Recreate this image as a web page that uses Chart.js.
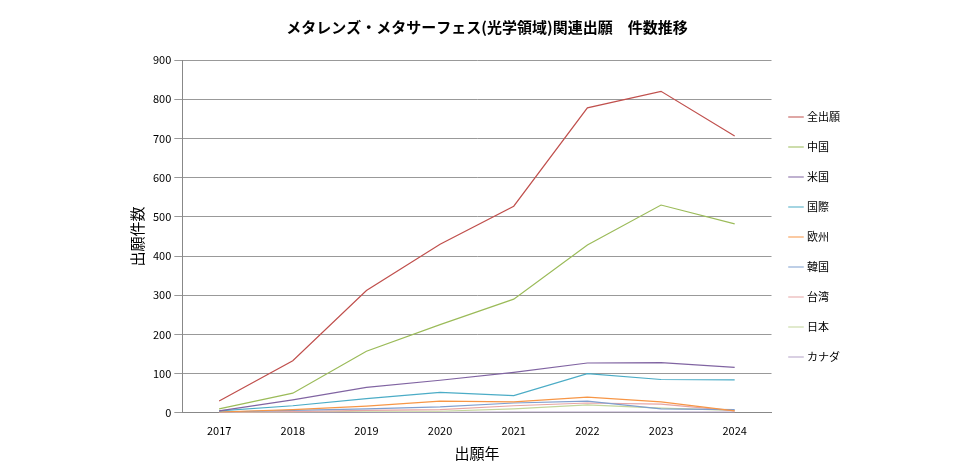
<!DOCTYPE html>
<html><head><meta charset="utf-8">
<script src="https://cdn.jsdelivr.net/npm/chart.js@4"></script>
<style>body{margin:0;background:#fff}#wrap{width:960px;height:472px}</style>
</head><body><div id="wrap"><canvas id="c"></canvas></div>
<script>
var years = ['2017','2018','2019','2020','2021','2022','2023','2024'];
var names = ['全出願','中国','米国','国際','欧州','韓国','台湾','日本','カナダ'];
var colors = ['#c0504d','#9bbb59','#8064a2','#4bacc6','#f79646','#7f9fcf','#e6a5a5','#c3d69b','#b3a2c7'];
var allApps = [30,133,312,430,527,778,820,706];
var china = [10,50,157,225,290,428,530,482];
var usa = [5,33,65,83,103,127,128,116];
var intl = [5,18,36,52,44,100,85,84];
var europe = [2,8,17,30,28,40,28,5];
var korea = [2,6,10,15,25,30,10,8];
var taiwan = [1,3,6,8,18,25,22,5];
var japan = [1,2,4,4,10,20,12,6];
var canada = [0,0,0,1,2,2,2,2];
var series = [allApps,china,usa,intl,europe,korea,taiwan,japan,canada];

var datasets = [];
for(var i=0;i<series.length;i++){
	datasets.push({label:names[i],data:series[i],borderColor:colors[i],backgroundColor:colors[i],
		borderWidth:1.2,pointRadius:0,tension:0});
}
Chart.defaults.font.family = '"Noto Sans CJK JP","DejaVu Sans",sans-serif';
Chart.defaults.color = '#000';
new Chart(document.getElementById('c'),{
	type:'line',
	data:{labels:years,datasets:datasets},
	options:{
		responsive:true,maintainAspectRatio:false,animation:false,
		layout:{padding:{left:124,right:110,top:8,bottom:6}},
		plugins:{
			title:{display:true,text:'メタレンズ・メタサーフェス(光学領域)関連出願　件数推移',font:{size:15,weight:'bold'},padding:{top:10,bottom:24}},
			legend:{position:'right',align:'center',labels:{usePointStyle:true,pointStyle:'line',boxWidth:24,padding:19,font:{size:11}}}
		},
		scales:{
			x:{offset:true,grid:{display:false},border:{color:'#888'},ticks:{font:{size:11}},
				title:{display:true,text:'出願年',font:{size:15}}},
			y:{min:0,max:900,ticks:{stepSize:100,font:{size:11}},grid:{color:'#999'},border:{color:'#888'},
				title:{display:true,text:'出願件数',font:{size:15}}}
		}
	}
});
</script></body></html>
